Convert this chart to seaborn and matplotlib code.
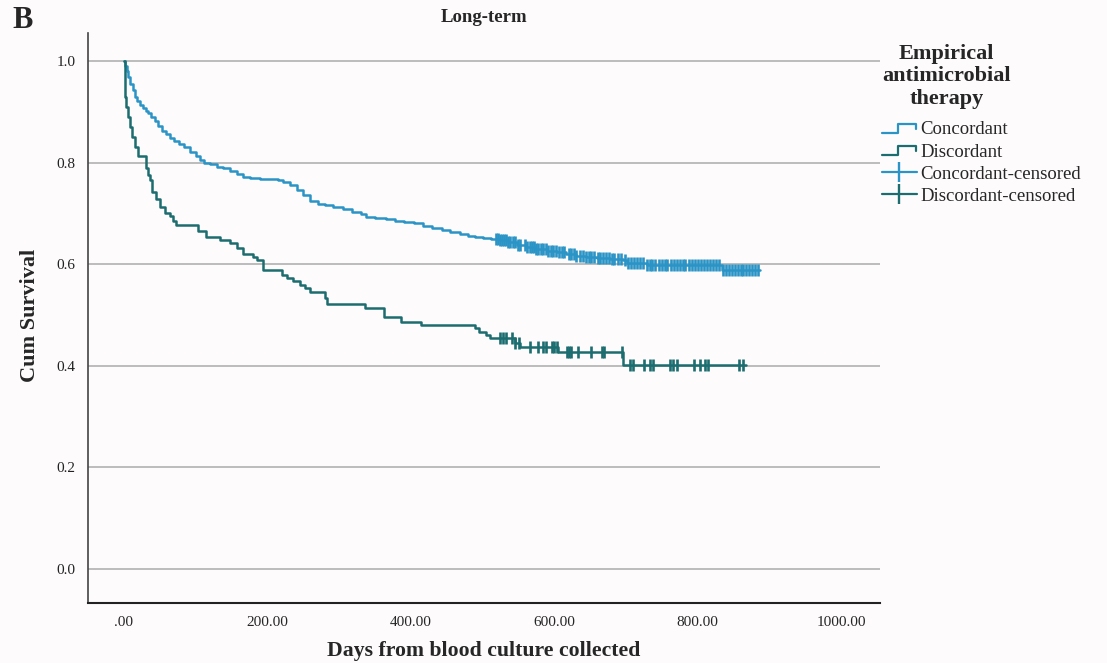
import numpy as np
import matplotlib
matplotlib.use("Agg")
import matplotlib.pyplot as plt
from matplotlib.lines import Line2D
from matplotlib.legend_handler import HandlerBase
import seaborn as sns

# Kaplan-Meier step points: (days, cumulative survival)
conc_days = [0, 2, 4, 6, 9, 12, 15, 18, 22, 26, 30, 34, 38, 43, 48, 53, 58, 64, 70, 77,
             84, 92, 100, 106, 111, 120, 130, 138, 148, 158, 166, 176, 190, 204, 215, 222,
             231, 241, 250, 259, 270, 281, 292, 305, 318, 330, 338, 350, 365, 378, 390,
             404, 417, 430, 443, 455, 468, 480, 490, 501, 512, 524, 535, 548, 560, 573,
             590, 604, 617, 630, 645, 660, 678, 696, 701, 729, 834, 887]
conc_surv = [1.0, 0.99, 0.98, 0.969, 0.955, 0.942, 0.93, 0.921, 0.913, 0.908, 0.902, 0.897,
             0.89, 0.882, 0.872, 0.862, 0.857, 0.848, 0.843, 0.837, 0.83, 0.821, 0.812,
             0.805, 0.799, 0.797, 0.792, 0.789, 0.783, 0.777, 0.772, 0.769, 0.768, 0.767,
             0.765, 0.762, 0.755, 0.746, 0.736, 0.724, 0.719, 0.716, 0.713, 0.708, 0.703,
             0.698, 0.693, 0.691, 0.688, 0.686, 0.684, 0.681, 0.675, 0.671, 0.667, 0.664,
             0.660, 0.656, 0.654, 0.651, 0.650, 0.647, 0.643, 0.637, 0.634, 0.630, 0.626,
             0.624, 0.621, 0.617, 0.615, 0.613, 0.611, 0.608, 0.603, 0.598, 0.589, 0.589]

disc_days = [0, 1, 2, 3, 5, 8, 11, 15, 20, 31, 33, 36, 39, 44, 50, 57, 64, 69, 73, 103,
             115, 134, 148, 157, 166, 180, 185, 194, 220, 227, 236, 245, 252, 259, 280,
             283, 336, 362, 387, 414, 490, 495, 505, 510, 545, 552, 606, 696, 868]
disc_surv = [1.0, 0.96, 0.93, 0.91, 0.89, 0.871, 0.85, 0.831, 0.812, 0.79, 0.775, 0.766,
             0.743, 0.728, 0.713, 0.70, 0.694, 0.685, 0.677, 0.665, 0.654, 0.648, 0.641,
             0.631, 0.621, 0.614, 0.608, 0.589, 0.579, 0.572, 0.566, 0.559, 0.553, 0.546,
             0.534, 0.522, 0.513, 0.497, 0.487, 0.480, 0.474, 0.467, 0.461, 0.454, 0.444,
             0.438, 0.428, 0.402, 0.402]

# Censoring times (days)
conc_censored = [519, 522, 525, 527, 530, 533, 536, 539, 542, 546, 549, 553, 559, 562, 566,
                 569, 572, 575, 578, 582, 585, 588, 592, 595, 598, 603, 607, 611, 614, 620,
                 624, 627, 631, 636, 640, 645, 649, 652, 656, 661, 664, 668, 672, 676, 680,
                 684, 689, 693, 699, 703, 707, 711, 716, 720, 724, 729, 733, 737, 741, 746,
                 750, 754, 758, 763, 767, 771, 775, 779, 783, 788, 792, 796, 800, 805, 809,
                 813, 817, 822, 826, 830, 836, 840, 844, 848, 852, 856, 860, 864, 868, 872,
                 876, 880, 884]
disc_censored = [525, 529, 533, 541, 545, 551, 566, 578, 585, 589, 597, 600, 604, 618, 621,
                 623, 633, 652, 666, 670, 695, 706, 710, 725, 734, 738, 762, 766, 771, 795,
                 803, 810, 814, 858, 863]

groups = ["Concordant", "Discordant"]
legend_title = "Empirical\nantimicrobial\ntherapy"
x_ticks = [0, 200, 400, 600, 800, 1000]
x_tick_labels = [".00", "200.00", "400.00", "600.00", "800.00", "1000.00"]
y_ticks = [0.0, 0.2, 0.4, 0.6, 0.8, 1.0]
y_tick_labels = ["0.0", "0.2", "0.4", "0.6", "0.8", "1.0"]

COL_CONC = "#2b94c6"
COL_DISC = "#1c6d6f"

sns.set_style("white")
plt.rcParams["font.family"] = ["Liberation Serif", "DejaVu Serif"]

W, H = 1107, 663
fig = plt.figure(figsize=(W / 100, H / 100), dpi=100, facecolor="#fdfbfc")
ax = fig.add_axes([88 / W, 60 / H, 792 / W, 570 / H])
ax.set_facecolor("#fdfbfc")


def surv_at(days, surv, t):
    idx = np.searchsorted(np.asarray(days), np.asarray(t), side="right") - 1
    return np.asarray(surv)[idx]


for days, surv, cens, col in [(conc_days, conc_surv, conc_censored, COL_CONC),
                              (disc_days, disc_surv, disc_censored, COL_DISC)]:
    sns.lineplot(x=days, y=surv, drawstyle="steps-post", estimator=None, sort=False,
                 color=col, lw=1.8, ax=ax, zorder=3)
    sns.scatterplot(x=cens, y=surv_at(days, surv, cens), marker="|", s=85,
                    linewidth=1.9, color=col, ax=ax, zorder=4)

ax.set_xlim(-50.2, 1054.4)
ax.set_ylim(-0.0669, 1.0551)
ax.set_xticks(x_ticks)
ax.set_xticklabels(x_tick_labels, fontsize=11)
ax.set_yticks(y_ticks)
ax.set_yticklabels(y_tick_labels, fontsize=11, color="#222222")
ax.tick_params(axis="both", length=0, pad=9)
ax.yaxis.grid(True, color="#bcbcbc", lw=1.4)
ax.xaxis.grid(False)
ax.set_axisbelow(True)
for side in ["top", "right"]:
    ax.spines[side].set_visible(False)
ax.spines["left"].set_color("#444444")
ax.spines["left"].set_linewidth(1.2)
ax.spines["bottom"].set_color("#222222")
ax.spines["bottom"].set_linewidth(1.5)

ax.set_xlabel("Days from blood culture collected", fontsize=15.7, fontweight="bold")
ax.xaxis.set_label_coords(0.5, -0.084)
ax.xaxis.label.set_va("center")
ax.set_ylabel("Cum Survival", fontsize=16, fontweight="bold")
ax.yaxis.set_label_coords(-0.073, 0.505)
ax.yaxis.label.set_va("center")

ax.text(0.5, 1.028, "Long-term", transform=ax.transAxes, ha="center", va="center",
        fontsize=13.5, fontweight="bold")
fig.text(12 / W, 1 - 20 / H, "B", ha="left", va="center", fontsize=22, fontweight="bold")


class StepHandler(HandlerBase):
    def create_artists(self, legend, orig_handle, xdescent, ydescent, width, height,
                       fontsize, trans):
        x0, y0 = -xdescent, -ydescent
        xs = [x0, x0 + 0.45 * width, x0 + 0.45 * width, x0 + 0.97 * width, x0 + 0.97 * width]
        ys = [y0 + 0.1 * height, y0 + 0.1 * height, y0 + 0.8 * height, y0 + 0.8 * height,
              y0 + 0.45 * height]
        line = Line2D(xs, ys, color=orig_handle.get_color(), lw=1.6, transform=trans)
        return [line]


h_conc = Line2D([], [], color=COL_CONC)
h_disc = Line2D([], [], color=COL_DISC)
h_conc_c = Line2D([0], [0], color=COL_CONC, lw=1.6, marker="|", markersize=14,
                  markeredgewidth=1.7)
h_disc_c = Line2D([0], [0], color=COL_DISC, lw=1.6, marker="|", markersize=14,
                  markeredgewidth=1.7)
leg = fig.legend([h_conc, h_disc, h_conc_c, h_disc_c],
                 [groups[0], groups[1], groups[0] + "-censored", groups[1] + "-censored"],
                 handler_map={h_conc: StepHandler(), h_disc: StepHandler()},
                 loc="upper left", bbox_to_anchor=(882 / W, 1 - 44 / H),
                 frameon=False, fontsize=13.5, title=legend_title,
                 title_fontproperties={"weight": "bold", "size": 16},
                 handlelength=1.85, handletextpad=0.2, labelspacing=0.27,
                 borderaxespad=0, borderpad=0)
leg._legend_box.align = "left"
leg._legend_box.sep = 9
leg.get_title().set_multialignment("center")
leg.get_title().set_linespacing(1.16)

fig.savefig("out.png", dpi=100, facecolor=fig.get_facecolor())
